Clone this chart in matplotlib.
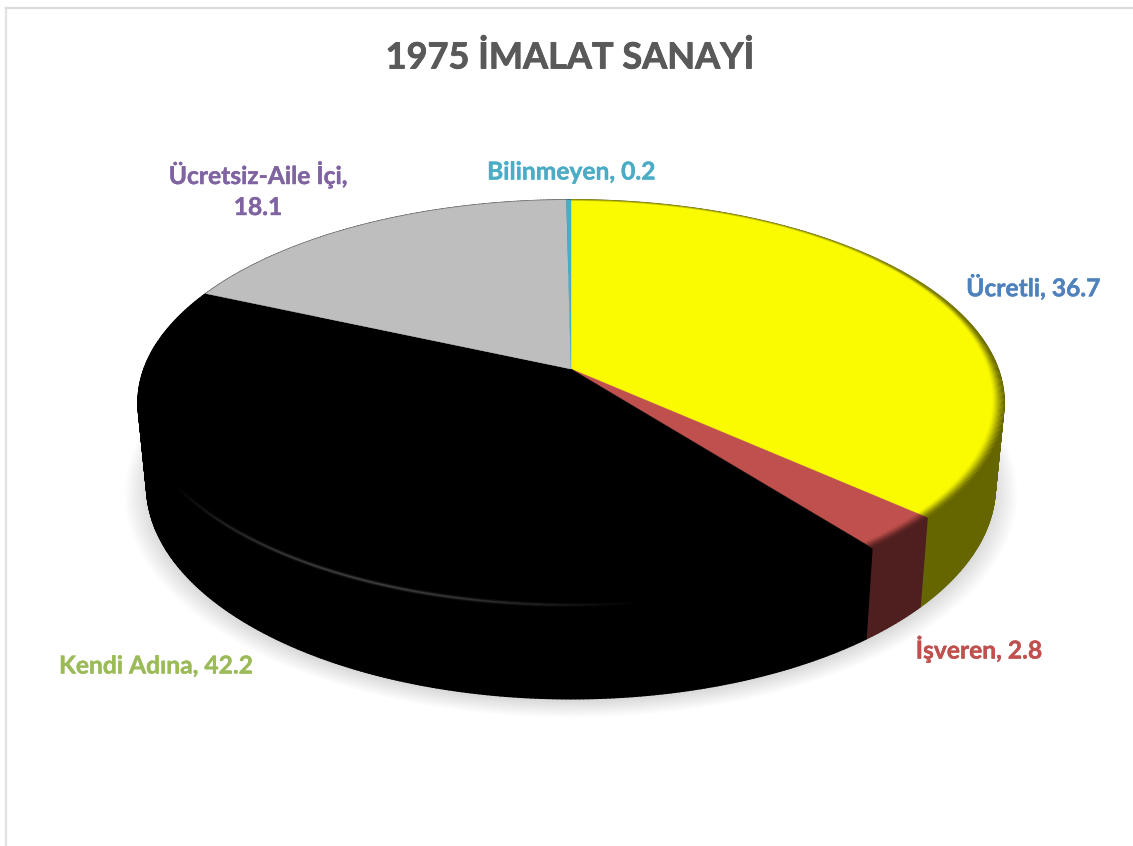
import numpy as np
import matplotlib
matplotlib.use("Agg")
import matplotlib.pyplot as plt
import matplotlib.patheffects as pe
from matplotlib.collections import LineCollection, PolyCollection
from matplotlib.colors import to_rgb
from matplotlib.patches import Polygon

plt.rcParams['font.family'] = ['Lato', 'DejaVu Sans']

# ---- data ----
categories = ['Ücretli', 'İşveren', 'Kendi Adına', 'Ücretsiz-Aile İçi', 'Bilinmeyen']
values = [36.7, 2.8, 42.2, 18.1, 0.2]
label_texts = ['Ücretli, 36.7', 'İşveren, 2.8', 'Kendi Adına, 42.2',
               'Ücretsiz-Aile İçi,\n18.1', 'Bilinmeyen, 0.2']
title_text = '1975 İMALAT SANAYİ'

# ---- style ----
top_colors = ['#FAFA00', '#C0504D', '#000000', '#BEBEBE', '#4BACC6']
side_colors = ['#666600', '#4F1F1F', '#000000', '#4C4C4C', '#1E4450']
label_colors = ['#4F81BD', '#C0504D', '#9BBB59', '#8064A2', '#4BACC6']
label_xy = [(1033, 287), (979, 649), (156, 666), (258, 190), (571, 172)]

W, H = 1133, 846
fig = plt.figure(figsize=(W / 100, H / 100), dpi=100, facecolor='white')
ax = fig.add_axes([0, 0, 1, 1])
ax.set_xlim(0, W)
ax.set_ylim(H, 0)
ax.axis('off')

# perspective projection of the pie disc
K, A, B = 0.165, 427.0, 197.0
CX, CY = 571.0, 369.0


def project(t_deg, r=1.0, scale=1.0, yscale=1.0, cy=CY):
    t = np.radians(t_deg)
    X, Y = r * np.sin(t), r * np.cos(t)
    w = 1 + K * Y
    return CX + scale * A * X / w, cy - yscale * B * Y / w


BOT = dict(scale=0.98, yscale=1.05, cy=451.0)

# frame
ax.plot([6, 6], [8, H], color='#E2E2E2', lw=1.6, zorder=0)
ax.plot([6, W], [8, 8], color='#DCDCDC', lw=1.6, zorder=0)

# soft shadow
tt = np.linspace(0, 360, 361)
for s in np.linspace(1.045, 0.985, 14):
    sx, sy = project(tt, r=s, scale=0.985, yscale=1.05, cy=456.0)
    ax.add_patch(Polygon(np.c_[sx, sy], closed=True, fc='black', ec='none',
                         alpha=0.0135, zorder=1))

# slices
cum = np.concatenate([[0], np.cumsum(values)]) * 3.6
spans = list(zip(cum[:-1], cum[1:]))

# side walls, built from small quads joining the top rim to the bottom rim
for (a, b), c in zip(spans, side_colors):
    t = np.linspace(a, b, max(int(b - a) * 2, 3))
    tx, ty = project(t)
    bx, by = project(t, **BOT)
    quads = [[(tx[i], ty[i]), (tx[i + 1], ty[i + 1]), (bx[i + 1], by[i + 1]), (bx[i], by[i])]
             for i in range(len(t) - 1)]
    ax.add_collection(PolyCollection(quads, facecolors=c, edgecolors=c,
                                     linewidths=1.1, zorder=2))

# top faces
for (a, b), c in zip(spans, top_colors):
    t = np.linspace(a, b, max(int(b - a) * 2, 3))
    tx, ty = project(t)
    poly = np.c_[np.r_[CX, tx], np.r_[CY, ty]]
    ax.add_patch(Polygon(poly, closed=True, fc=c, ec=c, lw=0.3, zorder=3))

# bevel shading on the lit slices, blending into the wall colour
for (a, b), c in zip(spans[:2], side_colors[:2]):
    t = np.linspace(a, b, max(int(b - a) * 3, 3))
    peak = np.clip((t - 25) / 65, 0.35, 0.95)
    width = np.clip((t - 25) / 70, 0.12, 1.0)
    rgb = to_rgb(c)
    for i in range(12):
        r = 1 - 0.0025 * i
        sx, sy = project(t, r=r)
        pts = np.c_[sx, sy]
        segs = np.stack([pts[:-1], pts[1:]], axis=1)
        lev = np.clip(1 - i / (11 * width[:-1]), 0, 1) ** 1.6
        cols = np.tile((*rgb, 1.0), (len(segs), 1))
        cols[:, 3] = peak[:-1] * lev
        ax.add_collection(LineCollection(segs, colors=cols, linewidths=1.3,
                                         zorder=4, capstyle='butt'))

# faint highlight along the front rim of the black slice
t = np.linspace(170, 240, 160)
sx, sy = project(t, r=1.0)
pts = np.c_[sx, sy]
segs = np.stack([pts[:-1], pts[1:]], axis=1)
env = np.sin((t[:-1] - 170) / 70 * np.pi) ** 1.2
for lw, al in [(3.5, 0.06), (2.0, 0.09), (1.0, 0.12)]:
    cols = np.ones((len(segs), 4))
    cols[:, 3] = al * env
    ax.add_collection(LineCollection(segs, colors=cols, linewidths=lw, zorder=5))

# text
ax.text(570, 58, title_text, ha='center', va='center', fontsize=26,
        fontweight='bold', color='#595959', zorder=6,
        path_effects=[pe.withStroke(linewidth=0.6, foreground='#595959')])
for txt, (x, y), col in zip(label_texts, label_xy, label_colors):
    ax.text(x, y, txt, ha='center', va='center', fontsize=17.7, fontweight='bold',
            color=col, linespacing=1.42, zorder=6,
            path_effects=[pe.withStroke(linewidth=0.3, foreground=col)])

fig.savefig('out.png', dpi=100, facecolor='white')
